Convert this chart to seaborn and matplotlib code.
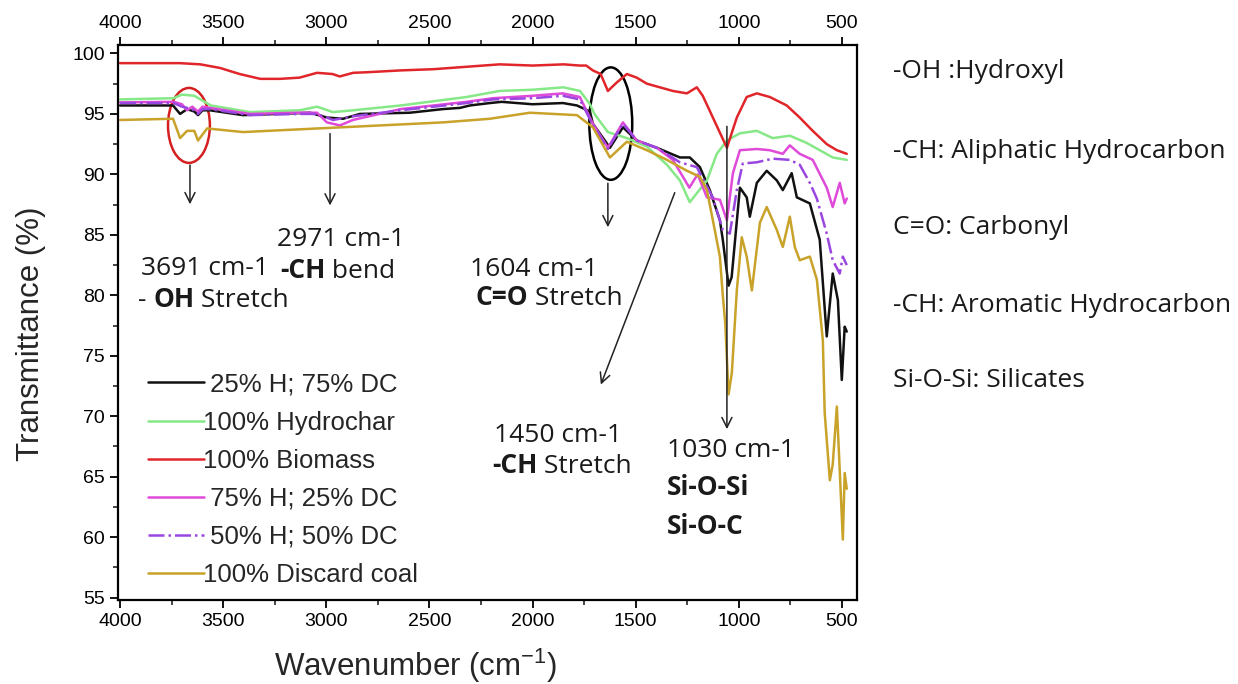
import numpy as np
import pandas as pd
import matplotlib
matplotlib.use("Agg")
import matplotlib.pyplot as plt
import seaborn as sns
from matplotlib.patches import Ellipse
from matplotlib.ticker import MultipleLocator

# ---------------- data ----------------
labels = [" 25% H; 75% DC", "100% Hydrochar", "100% Biomass",
          " 75% H; 25% DC", " 50% H; 50% DC", "100% Discard coal"]

wn_black = [4000, 3743, 3709, 3675, 3640, 3622, 3600, 3564, 3404, 3079, 2997, 2919, 2837, 2595, 2435,
            2352, 2304, 2207, 2150, 2000, 1853, 1785, 1722, 1708, 1625, 1562, 1495, 1398, 1286, 1238,
            1189, 1141, 1092, 1078, 1050, 1035, 995, 962, 947, 913, 865, 816, 787, 744, 719, 656, 608,
            574, 545, 520, 501, 487, 477]
t_black = [95.7, 95.7, 95.0, 95.4, 95.2, 94.9, 95.3, 95.3, 94.9, 95.1, 94.7, 94.6, 95.0, 95.1, 95.4,
           95.5, 95.7, 95.9, 96.0, 95.8, 95.9, 95.7, 95.2, 94.2, 92.2, 93.9, 92.8, 92.2, 91.4, 91.4,
           90.6, 88.7, 86.2, 84.6, 80.8, 81.5, 88.9, 88.1, 86.5, 89.3, 90.3, 89.5, 88.7, 90.1, 88.1, 87.6, 84.6,
           76.6, 81.8, 79.6, 73.0, 77.4, 77.0]

wn_green = [4000, 3740, 3700, 3640, 3560, 3370, 3130, 3045, 2968, 2870, 2640, 2320, 2160, 2000, 1850,
            1770, 1722, 1700, 1635, 1543, 1446, 1349, 1286, 1238, 1155, 1107, 1058, 995, 913, 836, 753,
            671, 608, 545, 477]
t_green = [96.2, 96.3, 96.6, 96.5, 95.7, 95.15, 95.3, 95.6, 95.15, 95.3, 95.7, 96.4, 96.9, 97.0, 97.2,
           96.9, 95.8, 95.0, 93.5, 93.0, 92.3, 90.8, 89.5, 87.7, 89.5, 91.7, 92.8, 93.4, 93.6, 93.0, 93.2,
           92.6, 92.0, 91.4, 91.2]

wn_red = [4000, 3710, 3610, 3515, 3420, 3320, 3225, 3130, 3045, 2970, 2935, 2870, 2800, 2640, 2480,
          2320, 2160, 2000, 1850, 1770, 1740, 1708, 1670, 1635, 1592, 1543, 1495, 1446, 1383, 1320,
          1252, 1204, 1175, 1126, 1058, 1010, 962, 913, 850, 768, 705, 642, 574, 525, 477]
t_red = [99.2, 99.2, 99.1, 98.8, 98.3, 97.9, 97.9, 98.0, 98.4, 98.3, 98.1, 98.4, 98.45, 98.6, 98.7,
         98.9, 99.1, 99.0, 99.1, 99.0, 99.0, 98.6, 98.3, 96.9, 97.6, 98.3, 98.0, 97.5, 97.2, 96.9,
         96.7, 97.2, 96.5, 94.7, 92.2, 94.7, 96.4, 96.7, 96.4, 95.7, 94.7, 93.6, 92.5, 92.0, 91.7]

wn_mag = [4000, 3740, 3700, 3675, 3650, 3622, 3600, 3564, 3370, 3130, 3045, 2997, 2934, 2871, 2640,
          2320, 2192, 2000, 1853, 1771, 1708, 1635, 1562, 1495, 1398, 1320, 1240, 1200, 1155, 1092,
          1058, 1029, 995, 913, 850, 787, 753, 705, 642, 574, 545, 511, 487, 477]
t_mag = [95.95, 96.0, 95.8, 95.3, 95.6, 95.2, 95.6, 95.5, 95.0, 95.1, 95.1, 94.3, 94.05, 94.5, 95.4,
         96.0, 96.3, 96.5, 96.7, 96.4, 94.2, 92.2, 94.3, 92.8, 92.2, 91.2, 88.9, 90.0, 88.1, 87.9,
         86.2, 90.1, 92.0, 92.1, 92.0, 91.7, 92.4, 91.7, 91.2, 88.9, 87.3, 89.3, 87.6, 88.0]

wn_purple = [4000, 3740, 3700, 3650, 3622, 3600, 3564, 3370, 3130, 3045, 2968, 2871, 2640, 2320, 2192,
             2000, 1853, 1771, 1708, 1635, 1562, 1495, 1398, 1286, 1204, 1155, 1126, 1078, 1044, 1010,
             981, 913, 836, 753, 705, 656, 622, 574, 545, 511, 496, 477]
t_purple = [95.9, 95.9, 95.6, 95.4, 95.0, 95.4, 95.4, 94.9, 95.0, 95.0, 94.5, 94.8, 95.3, 95.9, 96.2,
            96.3, 96.5, 96.2, 94.1, 92.1, 94.2, 92.8, 92.2, 91.0, 90.6, 89.0, 88.1, 85.4, 85.1, 88.7,
            90.9, 91.0, 91.3, 91.2, 90.8, 89.3, 88.0, 85.1, 82.9, 81.8, 83.2, 82.5]

wn_gold = [4000, 3743, 3709, 3675, 3640, 3622, 3578, 3404, 2919, 2435, 2207, 2013, 1785, 1708, 1625,
           1543, 1446, 1349, 1252, 1189, 1155, 1126, 1092, 1078, 1066, 1050, 1034, 1010, 986, 962, 937,
           898, 865, 816, 787, 753, 729, 705, 656, 622, 593, 584, 559, 545, 525, 496, 487, 477]
t_gold = [94.5, 94.6, 93.0, 93.6, 93.6, 92.8, 93.8, 93.5, 93.9, 94.3, 94.6, 95.1, 94.9, 93.9, 91.4,
          92.7, 92.0, 91.2, 90.3, 89.8, 88.7, 86.2, 83.2, 80.0, 77.7, 71.8, 73.6, 80.4, 84.8, 83.2, 80.4,
          86.0, 87.3, 85.4, 84.0, 86.5, 84.0, 82.9, 83.2, 81.3, 76.3, 70.3, 64.7, 66.0, 70.8, 59.8, 65.3, 64.0]

series_wn = [wn_black, wn_green, wn_red, wn_mag, wn_purple, wn_gold]
series_t = [t_black, t_green, t_red, t_mag, t_purple, t_gold]
colors = ["#111111", "#86e886", "#e0262a", "#e04ad8", "#9a46e0", "#c9a22a"]
styles = ["-", "-", "-", "-", "-.", "-"]

frames = []
for lab, w, t in zip(labels, series_wn, series_t):
    frames.append(pd.DataFrame({"Wavenumber": w, "T": t, "Sample": lab}))
df = pd.concat(frames, ignore_index=True)

# ---------------- figure ----------------
sns.set_style("ticks")
plt.rcParams["font.family"] = ["Liberation Sans", "DejaVu Sans"]
plt.rcParams["mathtext.fontset"] = "custom"
plt.rcParams["mathtext.rm"] = "Liberation Sans"

fig = plt.figure(figsize=(12.38, 6.84), dpi=100)
ax = fig.add_axes([0.0953, 0.1228, 0.597, 0.8114])

for lab, col, ls in zip(labels, colors, styles):
    sub = df[df["Sample"] == lab]
    sns.lineplot(data=sub, x="Wavenumber", y="T", ax=ax, color=col, lw=1.8,
                 linestyle=ls, label=lab, sort=False, estimator=None)

ax.set_xlim(4010, 427)
ax.set_ylim(54.8, 100.7)
ax.xaxis.set_major_locator(MultipleLocator(500))
ax.xaxis.set_minor_locator(MultipleLocator(250))
ax.yaxis.set_major_locator(MultipleLocator(5))
ax.yaxis.set_minor_locator(MultipleLocator(2.5))
ax.tick_params(axis="both", which="major", labelsize=14, length=6, width=1.3, direction="out", colors="black")
ax.tick_params(axis="both", which="minor", length=3.5, width=1.2, direction="out")
ax.tick_params(axis="x", top=True, labeltop=True, which="both")
for s in ax.spines.values():
    s.set_linewidth(1.6)
    s.set_color("black")
ax.set_xlabel(r"Wavenumber (cm$^{-1}$)", fontsize=22.5)
ax.set_ylabel("Transmittance (%)", fontsize=22.5)
ax.xaxis.set_label_coords(0.402, -0.085)
ax.yaxis.set_label_coords(-0.098, 0.48)

leg = ax.legend(loc="upper left", bbox_to_anchor=(0.040, 0.410), frameon=False, fontsize=18.5,
                handlelength=2.2, handletextpad=-0.05, labelspacing=0.55, borderpad=0, borderaxespad=0)

# ---------------- annotations ----------------
ax.add_patch(Ellipse((3666, 94.05), 203, 6.2, fill=False, ec="#d42020", lw=1.8))
ax.add_patch(Ellipse((1621, 94.2), 208, 9.3, fill=False, ec="black", lw=1.8))

arr = dict(arrowstyle="->", color="#222222", lw=1.1, mutation_scale=18)
ax.annotate("", xy=(3661, 87.3), xytext=(3661, 91.0), arrowprops=arr)
ax.annotate("", xy=(2982, 87.2), xytext=(2982, 93.6), arrowprops=arr)
ax.annotate("", xy=(1635, 85.4), xytext=(1635, 89.5), arrowprops=arr)
ax.annotate("", xy=(1674, 72.4), xytext=(1306, 88.7), arrowprops=arr)
ax.annotate("", xy=(1058, 68.7), xytext=(1058, 94.2), arrowprops=arr)

afont = ["Open Sans", "DejaVu Sans"]
afs = 19


def rich(x, y, pieces):
    prev = None
    for txt, wt in pieces:
        if prev is None:
            prev = ax.text(x, y, txt, fontsize=afs, fontweight=wt, family=afont,
                           ha="left", va="bottom", color="#1a1a1a")
        else:
            prev = ax.annotate(txt, xy=(1, 0), xycoords=prev, fontsize=afs, fontweight=wt,
                               family=afont, ha="left", va="bottom", color="#1a1a1a")


dy = -0.4
rich(3898, 81.6 + dy, [("3691 cm-1", "normal")])
rich(3913, 78.9 + dy, [("- ", "normal"), ("OH", "bold"), (" Stretch", "normal")])
rich(3239, 84.0 + dy, [("2971 cm-1", "normal")])
rich(3225, 81.3 + dy, [("-CH", "bold"), (" bend", "normal")])
rich(2304, 81.5 + dy, [("1604 cm-1", "normal")])
rich(2275, 79.1 + dy, [("C=O", "bold"), (" Stretch", "normal")])
rich(2188, 67.8 + dy, [("1450 cm-1", "normal")])
rich(2197, 65.2 + dy, [("-CH", "bold"), (" Stretch", "normal")])
rich(1349, 66.5 + dy, [("1030 cm-1", "normal")])
rich(1349, 63.4 + dy, [("Si-O-Si", "bold")])
rich(1349, 60.2 + dy, [("Si-O-C", "bold")])

right_txt = ["-OH :Hydroxyl", "-CH: Aliphatic Hydrocarbon", "C=O: Carbonyl",
             "-CH: Aromatic Hydrocarbon", "Si-O-Si: Silicates"]
right_y = [72, 151, 227, 305, 381]
for s, py in zip(right_txt, right_y):
    fig.text(893 / 1238, 1 - py / 684, s, fontsize=afs, family=afont, va="center", ha="left",
             color="#1a1a1a")

fig.savefig("out.png", dpi=100)
